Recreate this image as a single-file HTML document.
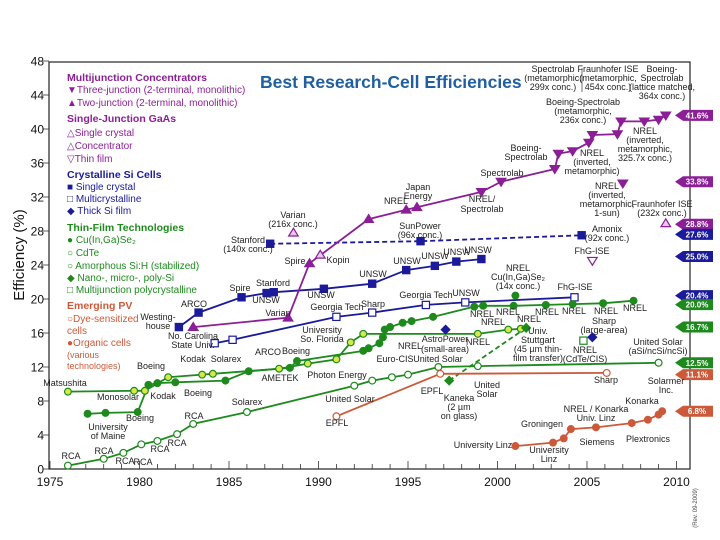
<!DOCTYPE html>
<html><head><meta charset="utf-8"><style>
html,body{margin:0;padding:0;background:#fff}
svg{display:block;font-family:"Liberation Sans",sans-serif}
.a{font-size:9px;fill:#222}
.lg{font-size:10.5px}
.lh{font-size:11px;font-weight:bold}
</style></head><body>
<svg id="c" width="720" height="540" viewBox="0 0 720 540"></svg>
<script>
// ---- data ----
const xTicks=[1975,1980,1985,1990,1995,2000,2005,2010];
const yTicks=[0,4,8,12,16,20,24,28,32,36,40,44,48];
const twoJYears=[1983.0,1988.3,1989.5,1992.8,1994.9,1995.5];
const twoJVals=[16.7,17.8,24.2,29.4,30.5,30.8];
const threeJYears=[1999.1,2000.2,2003.2,2003.4,2004.2,2005.1,2005.3,2006.7,2006.9,2008.2,2009.0,2009.4];
const threeJVals=[32.6,33.8,35.3,37.1,37.4,38.4,39.3,39.4,40.9,40.9,41.1,41.6];
const oneSunMJYears=[2007.0];
const oneSunMJVals=[33.6];
const gaasConcYears=[1988.6,1990.1,2009.4];
const gaasConcVals=[27.8,25.2,28.9];
const gaasThinYears=[2005.3];
const gaasThinVals=[24.5];
const siYears=[1982.2,1983.3,1985.7,1987.1,1987.5,1990.3,1993.0,1994.9,1996.5,1997.7,1999.1];
const siVals=[16.7,18.4,20.2,20.7,20.8,21.2,21.8,23.4,23.9,24.4,24.7];
const siConcYears=[1987.3,1995.7,2004.7];
const siConcVals=[26.5,26.8,27.5];
const mcYears=[1984.2,1985.2,1991.0,1993.0,1996.0,1998.2,2004.3];
const mcVals=[14.8,15.2,17.9,18.4,19.3,19.6,20.2];
const thickYears=[1997.1,2005.3];
const thickVals=[16.4,15.5];
const cigsYears=[1977.1,1978.1,1979.9,1980.5,1981.0,1982.0,1984.8,1986.1,1988.4,1988.8,1992.5,1992.8,1993.4,1993.6,1993.7,1994.0,1994.7,1995.2,1996.4,1998.7,1999.2,2000.9,2002.7,2004.2,2005.9,2007.6];
const cigsVals=[6.5,6.6,6.7,9.9,10.1,10.2,10.4,11.5,11.9,12.7,13.9,14.2,14.8,15.5,16.4,16.7,17.2,17.4,17.9,19.1,19.2,19.2,19.3,19.4,19.5,19.8];
const cigsConcYears=[2001.0];
const cigsConcVals=[20.4];
const cdteYears=[1976.0,1979.7,1980.3,1981.6,1983.5,1984.1,1987.8,1989.4,1991.0,1991.8,1992.5,1998.9,2000.6,2001.3];
const cdteVals=[9.1,9.2,9.2,10.8,11.1,11.2,11.8,12.4,12.9,14.9,15.9,15.9,16.4,16.5];
const asiYears=[1976.0,1978.0,1979.1,1980.1,1981.0,1982.1,1983.0,1986.0,1992.0,1993.0,1994.1,1995.0,1996.7,1998.9,2009.0];
const asiVals=[0.4,1.2,1.9,2.9,3.3,4.1,5.3,6.7,9.8,10.4,10.8,11.1,12.0,12.1,12.5];
const nanoYears=[1997.3,2001.6];
const nanoVals=[10.4,16.6];
const mjPolyYears=[2004.8];
const mjPolyVals=[15.1];
const dyeYears=[1991.0,1996.8,2006.1];
const dyeVals=[6.2,11.2,11.3];
const orgYears=[2001.0,2003.1,2003.7,2004.1,2005.5,2007.5,2008.4,2009.0,2009.2];
const orgVals=[2.7,3.1,3.6,4.7,4.9,5.4,5.8,6.4,6.8];
const tagVals=[41.6,33.8,28.8,27.6,25.0,20.4,20.0,16.7,12.5,11.1,6.8];
const tagLabels=["41.6%","33.8%","28.8%","27.6%","25.0%","20.4%","20.0%","16.7%","12.5%","11.1%","6.8%"];
const tagColors=["#8b1f96","#8b1f96","#8b1f96","#1a1a9a","#1a1a9a","#1a1a9a","#1e8a1e","#1e8a1e","#1e8a1e","#cc5a3a","#cc5a3a"];

// ---- axes ----
const X0=50,PX=17.9,Y0=469,PY=8.5;
function xs(y){return X0+PX*(y-1975);}
function ys(v){return Y0-PY*v;}
const svg=document.getElementById('c');
const NS='http://www.w3.org/2000/svg';
function mk(tag,at,txt){const e=document.createElementNS(NS,tag);for(const k in at)e.setAttribute(k,at[k]);if(txt!==undefined)e.textContent=txt;svg.appendChild(e);return e;}

let e=mk('rect',{x:49,y:62,width:641,height:407,fill:'none',stroke:'#222','stroke-width':1.2});


for(let yr=1975;yr<=2010;yr++){
  const big=yr%5===0;
  e=mk('line',{x1:xs(yr),x2:xs(yr),y1:469,y2:big?461:464,stroke:'#333','stroke-width':0.8});
  
  
}
xTicks.forEach(t=>{
  e=mk('text',{x:xs(t),y:486,'text-anchor':'middle','font-size':12,fill:'#111'},String(t));
  
  
});
yTicks.forEach(t=>{
  e=mk('line',{x1:43,x2:49,y1:ys(t),y2:ys(t),stroke:'#333','stroke-width':0.8});
  
  
  e=mk('text',{x:44,y:ys(t)+4.5,'text-anchor':'end','font-size':12,fill:'#111'},String(t));
  
  
});
e=mk('text',{x:24,y:255,transform:'rotate(-90 24 255)','text-anchor':'middle','font-size':15,fill:'#111'},'Efficiency (%)');


e=mk('text',{x:260,y:88,'font-size':17.5,'font-weight':'bold',fill:'#2060a0'},'Best Research-Cell Efficiencies');


e=mk('text',{x:697,y:508,transform:'rotate(-90 697 508)','text-anchor':'middle','font-size':6,fill:'#444'},'(Rev. 09-2009)');



// ---- markers ----
function marker(shape,x,y,col,fill,name){
  let el;const s=3.6;
  if(shape==='c')el=mk('circle',{cx:x,cy:y,r:3.4});
  else if(shape==='s')el=mk('rect',{x:x-s,y:y-s,width:2*s,height:2*s});
  else if(shape==='d')el=mk('polygon',{points:`${x},${y-4.3} ${x+4.3},${y} ${x},${y+4.3} ${x-4.3},${y}`});
  else if(shape==='u')el=mk('polygon',{points:`${x},${y-4.5} ${x+4.8},${y+3.3} ${x-4.8},${y+3.3}`});
  else el=mk('polygon',{points:`${x},${y+4.5} ${x+4.8},${y-3.3} ${x-4.8},${y-3.3}`});
  el.setAttribute('fill',fill);el.setAttribute('stroke',col);el.setAttribute('stroke-width',1.2);
  
  
}
function line(yrs,vals,col,name,dash){
  const p=yrs.map((y,i)=>xs(y).toFixed(1)+','+ys(vals[i]).toFixed(1)).join(' ');
  const at={points:p,fill:'none',stroke:col,'stroke-width':1.8};
  if(dash)at['stroke-dasharray']=dash;
  const el=mk('polyline',at);
  
  
}
function pts(yrs,vals,shape,col,fill,name){yrs.forEach((y,i)=>marker(shape,xs(y),ys(vals[i]),col,fill,name));}

const PU='#8b1f96',BL='#1a1a9a',GR='#1e8a1e',OR='#cc5a3a',YG='#d8e84a';
line(siConcYears,siConcVals,BL,'si-concentrator-line','5,3');
line(siYears,siVals,BL,'si-single-crystal-line');
line(mcYears,mcVals,BL,'si-multicrystalline-line');
line(twoJYears.concat(threeJYears),twoJVals.concat(threeJVals),PU,'multijunction-line');
line(asiYears,asiVals,GR,'amorphous-si-line');
line(cigsYears,cigsVals,GR,'cigs-line');
line(cdteYears,cdteVals,GR,'cdte-line');
line(nanoYears,nanoVals,GR,'nano-si-line','5,3');
line(dyeYears,dyeVals,OR,'dye-sensitized-line');
line(orgYears,orgVals,OR,'organic-line');

pts(siConcYears,siConcVals,'s',BL,BL,'si-concentrator-point');
pts(siYears,siVals,'s',BL,BL,'si-single-crystal-point');
pts(mcYears,mcVals,'s',BL,'#fff','si-multicrystalline-point');
pts(thickYears,thickVals,'d',BL,BL,'thick-si-point');
pts(twoJYears,twoJVals,'u',PU,PU,'two-junction-point');
pts(threeJYears,threeJVals,'v',PU,PU,'three-junction-point');
pts(oneSunMJYears,oneSunMJVals,'v',PU,PU,'three-junction-1sun-point');
pts(gaasConcYears,gaasConcVals,'u',PU,'#e9c6ee','gaas-concentrator-point');
pts(gaasThinYears,gaasThinVals,'v',PU,'#fff','gaas-thin-film-point');
pts(asiYears,asiVals,'c',GR,'#fff','amorphous-si-point');
pts(cigsYears,cigsVals,'c',GR,GR,'cigs-point');
pts(cigsConcYears,cigsConcVals,'c',GR,GR,'cigs-concentrator-point');
pts(cdteYears,cdteVals,'c',GR,YG,'cdte-point');
pts(nanoYears,nanoVals,'d',GR,GR,'nano-si-point');
pts(mjPolyYears,mjPolyVals,'s',GR,'#fff','multijunction-poly-point');
pts(dyeYears,dyeVals,'c',OR,'#fff','dye-sensitized-point');
pts(orgYears,orgVals,'c',OR,OR,'organic-point');

// ---- record tags ----
let prev=-99;
tagVals.forEach((v,i)=>{
  let y=ys(v);if(y-prev<9)y=prev+9;prev=y;
  e=mk('polygon',{points:`675,${y} 683,${y-5.5} 713,${y-5.5} 713,${y+5.5} 683,${y+5.5}`,fill:tagColors[i]});
  
  
  e=mk('text',{x:697,y:y+3,'text-anchor':'middle','font-size':8,'font-weight':'bold',fill:'#fff'},tagLabels[i]);
  
  
});

// ---- legend ----
const legend=[
 [81,'Multijunction Concentrators',PU,1],[93,'▼Three-junction (2-terminal, monolithic)',PU,0],[106,'▲Two-junction (2-terminal, monolithic)',PU,0],
 [122,'Single-Junction GaAs',PU,1],[136,'△Single crystal',PU,0],[149,'△Concentrator',PU,0],[162,'▽Thin film',PU,0],
 [178,'Crystalline Si Cells',BL,1],[190,'■ Single crystal',BL,0],[202,'□ Multicrystalline',BL,0],[214,'◆ Thick Si film',BL,0],
 [231,'Thin-Film Technologies',GR,1],[243,'● Cu(In,Ga)Se₂',GR,0],[256,'○ CdTe',GR,0],[269,'○ Amorphous Si:H (stabilized)',GR,0],[281,'◆ Nano-, micro-, poly-Si',GR,0],[293,'□ Multijunction polycrystalline',GR,0],
 [309,'Emerging PV',OR,1],[322,'○Dye-sensitized',OR,0],[334,'   cells',OR,0],[346,'●Organic cells',OR,0],[358,'   (various',OR,2],[369,'   technologies)',OR,2]];
legend.forEach(l=>{
  e=mk('text',{x:67,y:l[0],fill:l[2],'font-size':l[3]===1?10.5:(l[3]===2?9:10),'font-weight':l[3]===1?'bold':'normal','xml:space':'preserve'},l[1]);
  
  
});

// ---- annotations ----
const ann=[
 [553,[72,81,90],['Spectrolab','(metamorphic,','299x conc.)']],
 [608,[72,81,90],['Fraunhofer ISE','(metamorphic,','454x conc.)']],
 [662,[72,81,90,99],['Boeing-','Spectrolab','(lattice matched,','364x conc.)']],
 [583,[105,114,123],['Boeing-Spectrolab','(metamorphic,','236x conc.)']],
 [526,[151,160],['Boeing-','Spectrolab']],
 [592,[156,165,174],['NREL','(inverted,','metamorphic)']],
 [645,[134,143,152,161],['NREL','(inverted,','metamorphic,','325.7x conc.)']],
 [502,[176],['Spectrolab']],[418,[190,199],['Japan','Energy']],[396,[204],['NREL']],
 [607,[189,198,207,216],['NREL','(inverted,','metamorphic,','1-sun)']],
 [482,[202,212],['NREL/','Spectrolab']],[662,[207,216],['Fraunhofer ISE','(232x conc.)']],
 [420,[229,238],['SunPower','(96x conc.)']],[607,[232,241],['Amonix','(92x conc.)']],
 [407,[264],['UNSW']],[435,[259],['UNSW']],[457,[255],['UNSW']],[478,[253],['UNSW']],[373,[277],['UNSW']],
 [592,[254],['FhG-ISE']],[518,[271,280,289],['NREL','Cu(In,Ga)Se₂','(14x conc.)']],[575,[290],['FhG-ISE']],
 [293,[218,227],['Varian','(216x conc.)']],[248,[243,252],['Stanford','(140x conc.)']],
 [295,[264],['Spire']],[338,[263],['Kopin']],[273,[286],['Stanford']],[240,[291],['Spire']],
 [194,[307],['ARCO']],[266,[303],['UNSW']],[321,[298],['UNSW']],[278,[316],['Varian']],
 [158,[320,329],['Westing-','house']],[337,[310],['Georgia Tech']],[193,[339,348],['No. Carolina','State Univ.']],
 [322,[333,342],['University','So. Florida']],[226,[362],['Solarex']],[193,[362],['Kodak']],
 [268,[355],['ARCO']],[296,[354],['Boeing']],[151,[369],['Boeing']],[280,[381],['AMETEK']],[337,[378],['Photon Energy']],
 [65,[386],['Matsushita']],[118,[400],['Monosolar']],[163,[399],['Kodak']],[198,[396],['Boeing']],[140,[421],['Boeing']],
 [108,[430,439],['University','of Maine']],[247,[405],['Solarex']],[350,[402],['United Solar']],
 [71,[459],['RCA']],[104,[454],['RCA']],[125,[464],['RCA']],[143,[465],['RCA']],[160,[452],['RCA']],[177,[446],['RCA']],[194,[419],['RCA']],
 [337,[426],['EPFL']],
 [373,[307],['Sharp']],[426,[298],['Georgia Tech']],[466,[296],['UNSW']],
 [410,[349],['NREL']],[482,[317],['NREL']],[508,[315],['NREL']],[493,[325],['NREL']],[529,[322],['NREL']],
 [547,[315],['NREL']],[574,[314],['NREL']],[606,[314],['NREL']],[635,[311],['NREL']],[478,[345],['NREL']],
 [445,[342,352],['AstroPower','(small-area)']],[395,[362],['Euro-CIS']],[438,[362],['United Solar']],
 [538,[334,343,352,361],['Univ.','Stuttgart','(45 µm thin-','film transfer)']],
 [604,[324,333],['Sharp','(large-area)']],[585,[353,362],['NREL','(CdTe/CIS)']],
 [658,[345,354],['United Solar','(aSi/ncSi/ncSi)']],[606,[383],['Sharp']],[432,[394],['EPFL']],
 [487,[388,397],['United','Solar']],[459,[401,410,419],['Kaneka','(2 µm','on glass)']],
 [666,[384,393],['Solarmer','Inc.']],[642,[404],['Konarka']],[596,[412,421],['NREL / Konarka','Univ. Linz']],
 [542,[427],['Groningen']],[597,[445],['Siemens']],[648,[442],['Plextronics']],[483,[448],['University Linz']],
 [549,[453,462],['University','Linz']]];
ann.forEach(a=>{
  a[1].forEach((yy,j)=>{
    e=mk('text',{x:a[0],y:yy,'text-anchor':'middle',class:'a'},a[2][j]);
    
    
  });
});
e=mk('line',{x1:582,y1:68,x2:582,y2:92,stroke:'#333','stroke-width':0.7});


</script>
</body></html>
